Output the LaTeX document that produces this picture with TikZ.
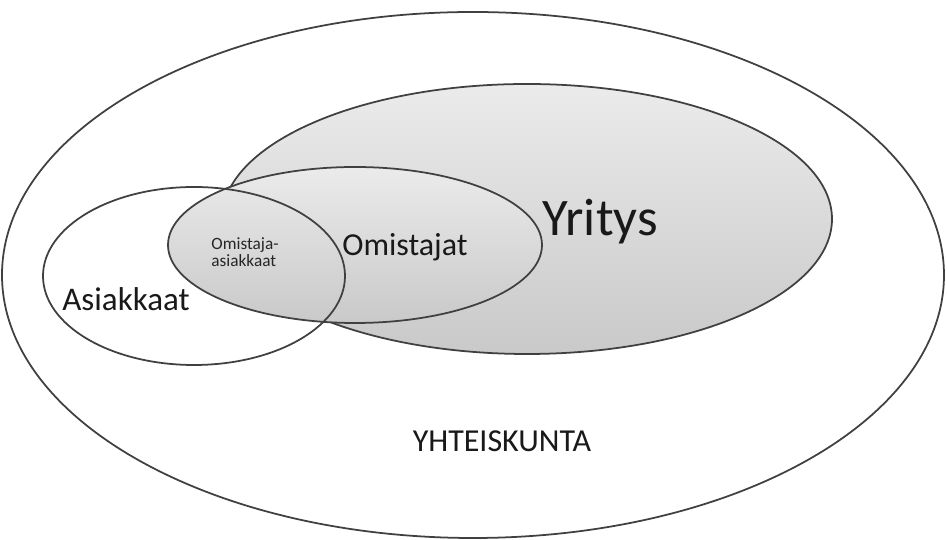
\documentclass[tikz,border=0pt]{standalone}
\usepackage{fontspec}
\setmainfont{Carlito}
\definecolor{viiva}{HTML}{404040}
\definecolor{ylaharmaa}{HTML}{EBEBEB}
\definecolor{alaharmaa}{HTML}{C9C9C9}
\begin{document}
\begin{tikzpicture}[x=0.01cm, y=-0.01cm, line join=round, line cap=round,
	reuna/.style={draw=viiva, line width=0.5pt},
	harmaa/.style={reuna, top color=ylaharmaa, bottom color=alaharmaa},
	teksti/.style={text=black!90, inner sep=0pt, anchor=base}]
	\useasboundingbox (0,0) rectangle (947,540);
	% Yhteiskunta
	\draw[reuna, fill=white] (473,275) ellipse (471 and 263);
	% Yritys ja omistajat
	\draw[harmaa] (527,219) ellipse (305 and 135);
	\draw[harmaa] (355,245) ellipse (187 and 78);
	% Asiakkaat (ei tayttoa)
	\draw[reuna] (194,276) ellipse (151 and 89);
	% tekstit
	\node[teksti, font=\fontsize{15}{18}\selectfont] (yritys) at (600,236) {Yritys};
	\node[teksti, font=\fontsize{9.1}{11}\selectfont] (omistajat) at (405,256) {Omistajat};
	\node[teksti, font=\fontsize{9.4}{11}\selectfont] (asiakkaat) at (126,311) {Asiakkaat};
	\node[teksti, font=\fontsize{9.1}{11}\selectfont] (yhteiskunta) at (502,452) {YHTEISKUNTA};
	\node[text=black!85, inner sep=0pt, align=left, font=\fontsize{4.9}{5}\selectfont] (omasiak) at (245,252) {Omistaja-\\asiakkaat};
\end{tikzpicture}
\end{document}
